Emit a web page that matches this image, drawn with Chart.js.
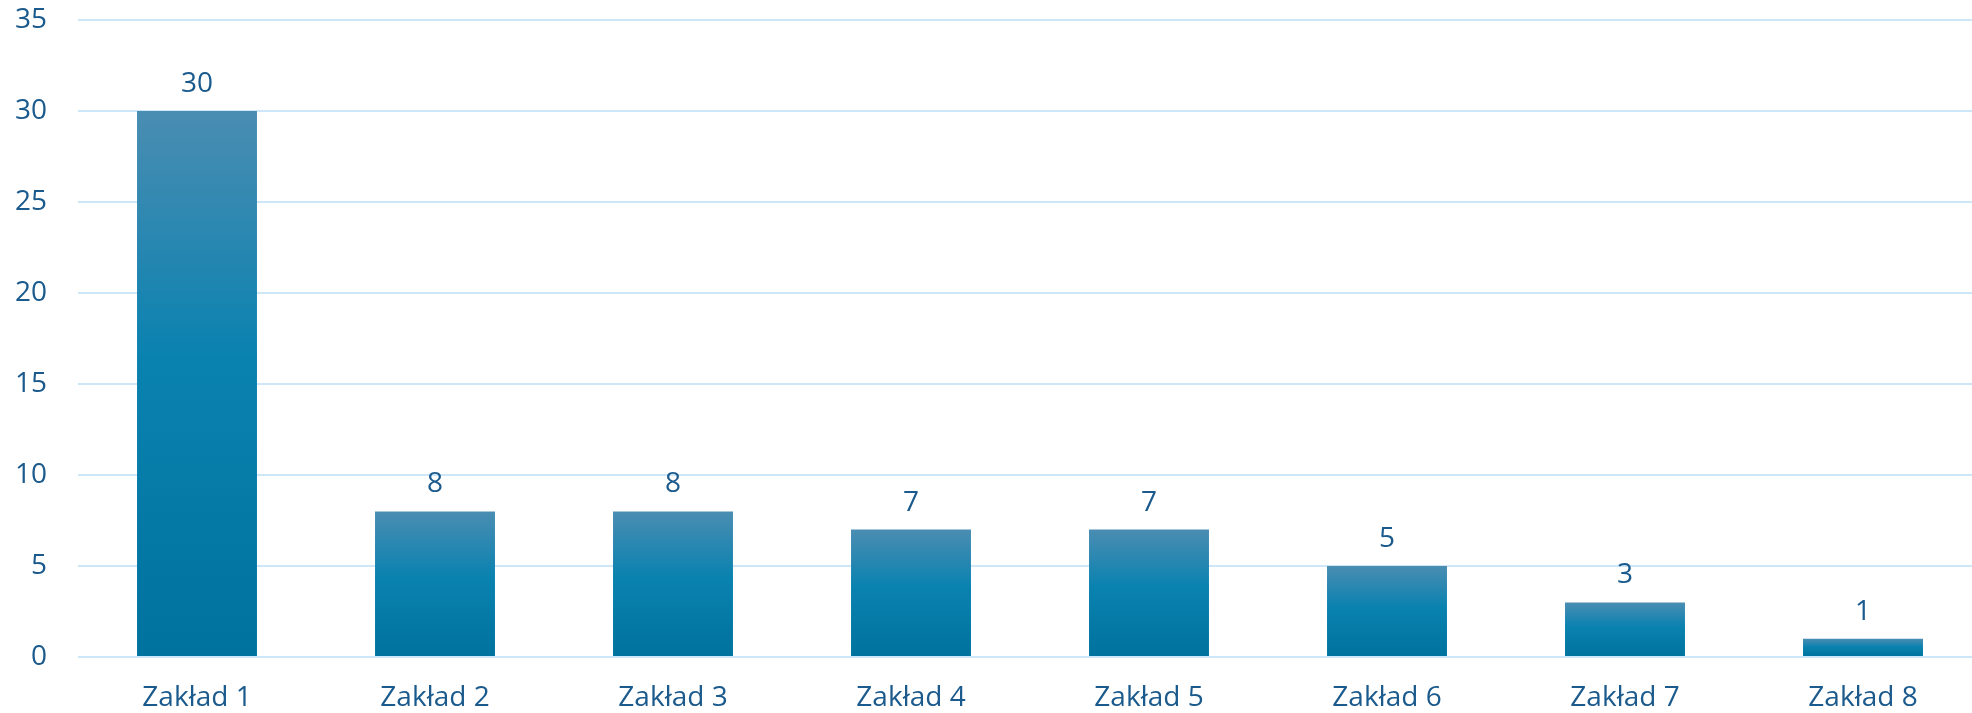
<!DOCTYPE html>
<html>
<head>
<meta charset="utf-8">
<script src="https://cdn.jsdelivr.net/npm/chart.js@4/dist/chart.umd.min.js"></script>
<style>
  html, body { margin: 0; padding: 0; background: #ffffff; overflow: hidden; }
  #wrap { position: relative; width: 1990px; height: 713px; }
</style>
</head>
<body>
<div id="wrap"><canvas id="c"></canvas></div>
<script>
const categories = ['Zakład 1', 'Zakład 2', 'Zakład 3', 'Zakład 4', 'Zakład 5', 'Zakład 6', 'Zakład 7', 'Zakład 8'];
const values = [30, 8, 8, 7, 7, 5, 3, 1];
const yMax = 35;
const yStep = 5;

const TEXT = '#1b5a8c';
const FONT = '"Open Sans", sans-serif';

function barGradient(ctx) {
  const chart = ctx.chart;
  if (!chart.chartArea || ctx.type !== 'data') return '#0080ac';
  const y = chart.scales.y;
  const top = y.getPixelForValue(ctx.parsed.y);
  const bottom = y.getPixelForValue(0);
  if (!isFinite(top) || !isFinite(bottom) || bottom - top < 1) return '#0080ac';
  const g = chart.ctx.createLinearGradient(0, top, 0, bottom);
  g.addColorStop(0, '#4a8db2');
  g.addColorStop(0.45, '#0a82b0');
  g.addColorStop(1, '#00729e');
  return g;
}

const valueLabels = {
  id: 'valueLabels',
  afterDatasetsDraw(chart) {
    const c = chart.ctx;
    const meta = chart.getDatasetMeta(0);
    c.save();
    c.font = '28px ' + FONT;
    c.fillStyle = TEXT;
    c.textAlign = 'center';
    c.textBaseline = 'alphabetic';
    meta.data.forEach((bar, i) => {
      c.fillText(String(values[i]), bar.x, bar.y - 19);
    });
    c.restore();
  }
};

new Chart(document.getElementById('c'), {
  type: 'bar',
  data: {
    labels: categories,
    datasets: [{
      data: values,
      backgroundColor: barGradient,
      borderWidth: 0,
      barPercentage: 0.504,
      categoryPercentage: 1.0
    }]
  },
  options: {
    responsive: true,
    maintainAspectRatio: false,
    animation: false,
    events: [],
    layout: { padding: { left: 0, right: 8, top: 20, bottom: 0 } },
    plugins: { legend: { display: false }, tooltip: { enabled: false } },
    scales: {
      x: {
        grid: { display: false, drawTicks: false },
        border: { display: false },
        ticks: { color: TEXT, font: { family: FONT, size: 28 }, padding: 24, maxRotation: 0 },
        afterFit(s) { s.height = 56; s.paddingLeft = 0; s.paddingRight = 0; }
      },
      y: {
        min: 0, max: yMax,
        grid: { color: '#cde6f8', lineWidth: 2, drawTicks: false },
        border: { display: false },
        ticks: { stepSize: yStep, color: TEXT, font: { family: FONT, size: 28 }, padding: 31 },
        afterFit(s) { s.width = 78; s.paddingTop = 0; s.paddingBottom = 0; }
      }
    }
  },
  plugins: [valueLabels]
});
</script>
</body>
</html>
